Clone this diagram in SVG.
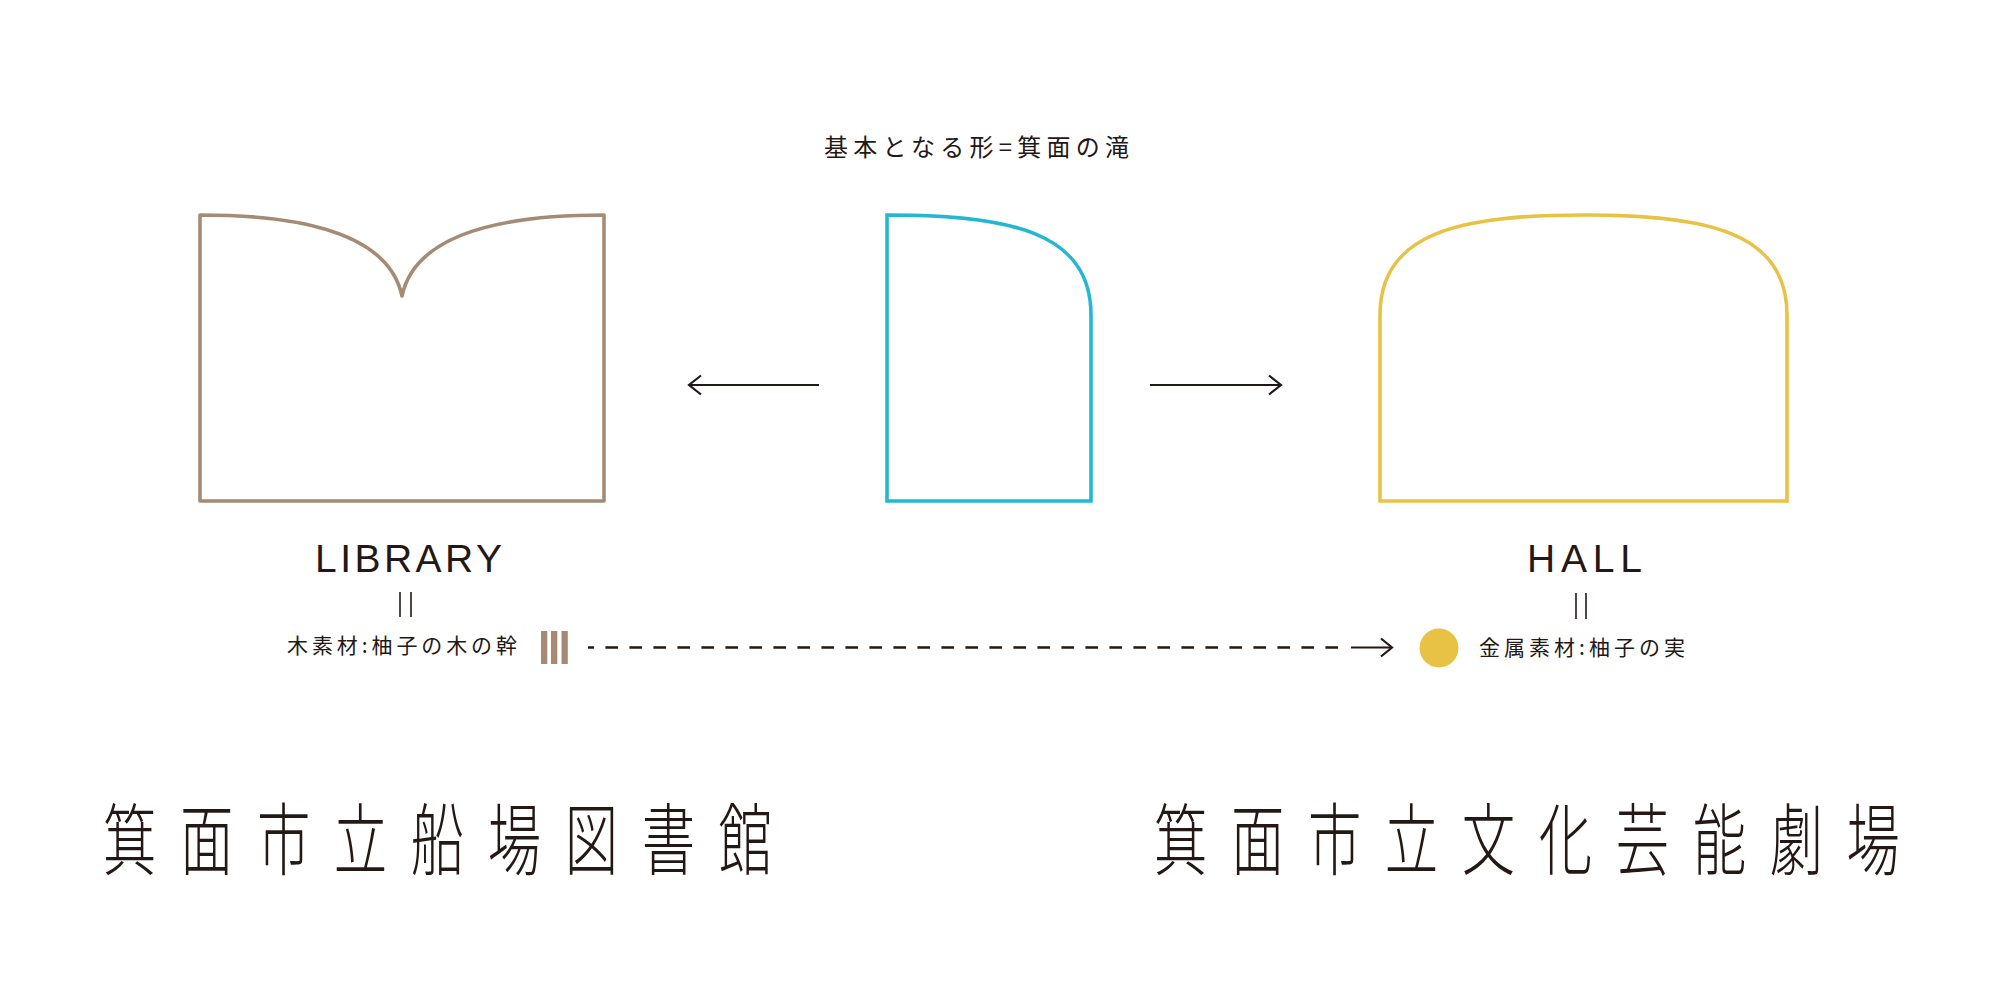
<svg xmlns="http://www.w3.org/2000/svg" width="2000" height="1000" viewBox="0 0 2000 1000">
<defs>
<style>
.jp{font-family:"Noto Sans CJK JP","Noto Sans",sans-serif;fill:#231815}
.lat{font-family:"Liberation Sans",Arial,sans-serif;fill:#231815}
.shape{fill:none;stroke-width:3.6}
.ln{stroke:#231815;fill:none;stroke-width:2.2}
.eq{stroke:#231815;stroke-width:1.6}
.big{font-family:"Noto Sans CJK JP",sans-serif;font-weight:300;fill:#231815;font-size:53.4px}
</style>
</defs>
<rect width="2000" height="1000" fill="#fff"/>

<g id="title">
<text class="jp" x="824" y="156" font-size="24" textLength="305" lengthAdjust="spacing">基本となる形=箕面の滝</text>
</g>

<g id="library">
<path class="shape" stroke="#a58b75" stroke-linejoin="round" d="M200,215 C320,215 390,240 402,296 C414,240 484,215 604,215 V501 H200 Z"/>
<text class="lat" x="315" y="572" font-size="39" textLength="187" lengthAdjust="spacing">LIBRARY</text>
<line class="eq" x1="400" y1="592" x2="400" y2="617"/>
<line class="eq" x1="411" y1="592" x2="411" y2="617"/>
<text class="jp" x="287" y="653" font-size="21" textLength="230" lengthAdjust="spacing">木素材:柚子の木の幹</text>
<g fill="#a58b75">
<rect x="541" y="631" width="6.3" height="33"/>
<rect x="551" y="631" width="6.3" height="33"/>
<rect x="561.5" y="631" width="6.3" height="33"/>
</g>
</g>

<g id="base">
<path class="shape" stroke="#23b7d3" d="M887,215 C1010,215 1091,232 1091,315 V501 H887 Z"/>
</g>

<g id="hall">
<path class="shape" stroke="#e8c245" d="M1380,501 V315 C1380,232 1461,215 1584,215 C1707,215 1787,232 1787,315 V501 Z"/>
<text class="lat" x="1527" y="572" font-size="39" textLength="115" lengthAdjust="spacing">HALL</text>
<line class="eq" x1="1576" y1="593" x2="1576" y2="619"/>
<line class="eq" x1="1586" y1="593" x2="1586" y2="619"/>
<circle cx="1439" cy="648" r="19.5" fill="#e8c245"/>
<text class="jp" x="1479" y="655" font-size="21" textLength="206" lengthAdjust="spacing">金属素材:柚子の実</text>
</g>

<g id="connectors">
<line class="ln" x1="819" y1="385" x2="690" y2="385"/>
<polyline class="ln" points="701,375.5 689,385 701,394.5"/>
<line class="ln" x1="1150" y1="385" x2="1280" y2="385"/>
<polyline class="ln" points="1269,375.5 1281,385 1269,394.5"/>
<line stroke="#231815" stroke-width="2.5" x1="588" y1="647.5" x2="1345" y2="647.5" stroke-dasharray="12.6 11.4" stroke-dashoffset="6.6"/>
<line class="ln" x1="1351" y1="647.5" x2="1391" y2="647.5"/>
<polyline class="ln" points="1381,638.5 1392,647.5 1381,656.5"/>
</g>

<g id="name-library" transform="translate(0,868.5) scale(1,1.46)">
<text class="big" x="103" y="0" textLength="669" lengthAdjust="spacing">箕面市立船場図書館</text>
</g>
<g id="name-hall" transform="translate(0,868.5) scale(1,1.46)">
<text class="big" x="1154" y="0" textLength="746" lengthAdjust="spacing">箕面市立文化芸能劇場</text>
</g>
</svg>
